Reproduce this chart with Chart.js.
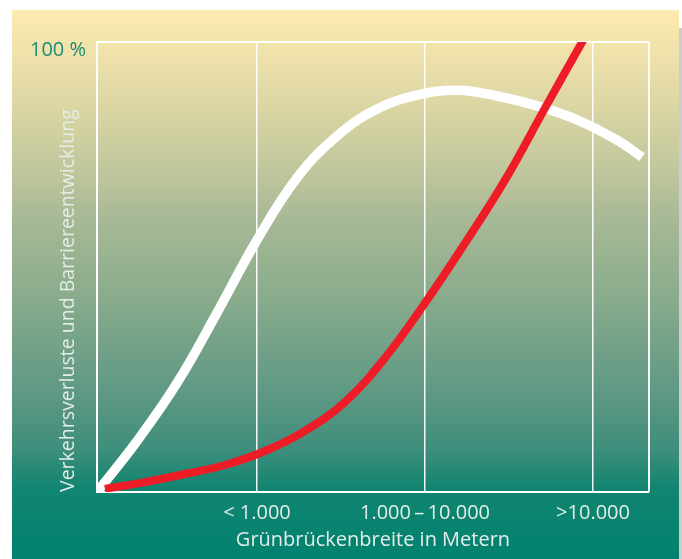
<!DOCTYPE html>
<html>
<head>
<meta charset="utf-8">
<script src="https://cdn.jsdelivr.net/npm/chart.js@4/dist/chart.umd.min.js"></script>
<style>
  html, body { margin: 0; padding: 0; background: #ffffff; }
  canvas { display: block; }
</style>
</head>
<body>
<canvas id="chart" width="682" height="559"></canvas>
<script>
// Width classes along the horizontal axis (one gridline per class)
const categories = ["< 1.000", "1.000\u2009\u2013\u200910.000", ">10.000"];
const categoryPositions = [1, 2, 3];
const xRange = [0.048, 3.333];

// Vertical axis: share in percent, only the top value is labelled
const yRange = [0, 100];
const yTickLabel = "100 %";

// White curve: Verkehrsverluste (traffic losses)
const lossX = [0.048, 0.286, 0.524, 0.762, 1.000, 1.238, 1.476, 1.714, 1.952, 2.190, 2.429, 2.667, 2.905, 3.143, 3.292];
const lossY = [0, 11.3, 24.2, 39.8, 56.0, 69.8, 79.1, 85.1, 88.2, 89.3, 88.0, 85.8, 82.7, 78.2, 74.4];

// Red curve: Barriereentwicklung (barrier development)
const barrierX = [0.095, 0.333, 0.571, 0.810, 1.048, 1.286, 1.524, 1.762, 2.000, 2.238, 2.476, 2.714, 2.935, 3.161];
const barrierY = [0.7, 2.2, 4.0, 6.0, 9.1, 13.6, 20.0, 29.8, 42.0, 55.3, 69.3, 85.3, 100, 115.1];

const toPoints = (xs, ys) => xs.map((x, i) => ({ x: x, y: ys[i] }));

const FONT = "'Open Sans', 'Noto Sans', sans-serif";
const LABEL_COLOR = "#e4ede7";

// Panel background: warm yellow fading into teal, solid teal below the axis
const panelBackground = {
  id: "panelBackground",
  beforeDraw(chart) {
    const ctx = chart.ctx;
    ctx.save();
    ctx.fillStyle = "#ffffff";
    ctx.fillRect(0, 0, chart.width, chart.height);
    // soft shadow on the right edge
    ctx.fillStyle = "#cdcdcd";
    ctx.fillRect(679, 28, 3, chart.height - 28);
    const top = 10, bottom = chart.height;
    const g = ctx.createLinearGradient(0, top, 0, bottom);
    const stop = (y, c) => g.addColorStop((y - top) / (bottom - top), c);
    stop(10, "#fdeab0");
    stop(60, "#ede0aa");
    stop(110, "#dad5a3");
    stop(180, "#bcc49b");
    stop(210, "#abbb97");
    stop(300, "#88ab8c");
    stop(400, "#5b9783");
    stop(450, "#3d8e7b");
    stop(488, "#118571");
    stop(559, "#01826f");
    ctx.fillStyle = g;
    ctx.fillRect(12, top, 667, bottom - top);
    ctx.restore();
  }
};

new Chart(document.getElementById("chart"), {
  type: "line",
  data: {
    datasets: [
      {
        label: "Barriereentwicklung",
        data: toPoints(barrierX, barrierY),
        borderColor: "#ee1c27",
        borderWidth: 8,
        pointRadius: 0,
        tension: 0.4,
        clip: 0,
        order: 0
      },
      {
        label: "Verkehrsverluste",
        data: toPoints(lossX, lossY),
        borderColor: "#ffffff",
        borderWidth: 9.5,
        pointRadius: 0,
        tension: 0.4,
        clip: 0,
        order: 1
      }
    ]
  },
  options: {
    responsive: false,
    animation: false,
    devicePixelRatio: 1,
    layout: { padding: { left: 0, top: 42, right: 33, bottom: 0 } },
    plugins: {
      legend: { display: false },
      tooltip: { enabled: false }
    },
    scales: {
      x: {
        type: "linear",
        min: xRange[0],
        max: xRange[1],
        afterBuildTicks(scale) {
          scale.ticks = [xRange[0], ...categoryPositions, xRange[1]].map(v => ({ value: v }));
        },
        afterFit(scale) { scale.height = 67; },
        ticks: {
          autoSkip: false,
          maxRotation: 0,
          padding: 9,
          color: LABEL_COLOR,
          font: { family: FONT, size: 20 },
          callback(value) {
            const i = categoryPositions.indexOf(value);
            return i >= 0 ? categories[i] : "";
          }
        },
        grid: {
          drawTicks: false,
          color: "rgba(255,255,255,0.95)",
          lineWidth: ctx => (ctx.tick && ctx.tick.value === xRange[1] ? 2 : 1.5)
        },
        border: { display: true, color: "rgba(255,255,255,0.9)", width: 2 },
        title: {
          display: true,
          text: "Grünbrückenbreite in Metern",
          color: LABEL_COLOR,
          font: { family: FONT, size: 20 },
          padding: { top: 0, bottom: 7 }
        }
      },
      y: {
        min: yRange[0],
        max: yRange[1],
        afterFit(scale) { scale.width = 97; },
        ticks: {
          stepSize: 100,
          padding: 11,
          labelOffset: 8,
          color: "#1b8c74",
          font: { family: FONT, size: 20 },
          callback(value) { return value === yRange[1] ? yTickLabel : ""; }
        },
        grid: {
          drawTicks: false,
          color: "#ffffff",
          lineWidth: 2
        },
        border: { display: true, color: "#ffffff", width: 2 },
        title: {
          display: true,
          text: "Verkehrsverluste und Barriereentwicklung",
          align: "start",
          color: LABEL_COLOR,
          font: { family: FONT, size: 19.5 },
          padding: { top: 57, bottom: 0 }
        }
      }
    }
  },
  plugins: [panelBackground]
});
</script>
</body>
</html>
